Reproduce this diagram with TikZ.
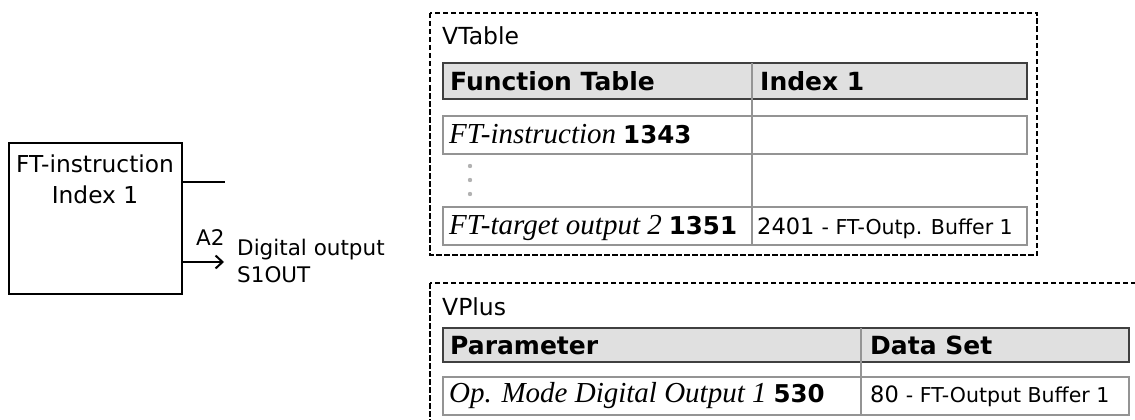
\documentclass[tikz,border=0pt]{standalone}
\usepackage{fontspec}
\setmainfont{DejaVu Sans}
\newfontfamily\serifit{Liberation Serif}
\usetikzlibrary{arrows.meta}
\tikzset{
 frame/.style={draw=black, line width=2.4pt, dash pattern=on 5.5pt off 2.5pt},
 hdr/.style={draw=black!75, fill=black!12, line width=1.3pt},
 rowbox/.style={draw=black!42, line width=2.4pt},
 divider/.style={draw=black!42, line width=2.4pt},
 lbl/.style={anchor=base west, inner sep=0pt},
 clbl/.style={anchor=base, inner sep=0pt},
 blk/.style={draw=black, line width=2.2pt},
 wire/.style={draw=black, line width=2.2pt},
 dot/.style={fill=black!30},
}
\newcommand\ita[1]{{\serifit\itshape\fontsize{29}{32}\selectfont #1}}
\newcommand\bnum[1]{{\bfseries\fontsize{24.5}{28}\selectfont #1}}
\newcommand\rg[1]{{\fontsize{21.5}{24}\selectfont #1}}
\newcommand\bx[1]{{\fontsize{23.3}{26}\selectfont #1}}
\newcommand\hb[1]{{\bfseries\fontsize{25}{28}\selectfont #1}}
\newcommand\sm[1]{{\fontsize{20.5}{24}\selectfont #1}}
\newcommand\bignum[1]{{\fontsize{22.5}{24}\selectfont #1}}
\begin{document}
\begin{tikzpicture}[x=1pt,y=-1pt]
\path[use as bounding box, clip] (0,0) rectangle (1135,420);
% left block
\node[blk, minimum width=173pt, minimum height=151pt, inner sep=0pt] (ftbox) at (95.5,218.5) {};
\node[clbl] (t1) at (95,172) {\bx{FT-instruction}};
\node[clbl] (t2) at (95,203) {\bx{Index 1}};
\coordinate (o1) at (225,182);
\coordinate (o2) at (224,262);
\draw[wire] (ftbox.east |- o1) -- (o1);
\draw[wire, -{Straight Barb[length=7pt,width=13pt,line width=2pt]}] (ftbox.east |- o2) -- (o2);
\node[lbl] (a2) at (196,245) {\rg{A2}};
\node[lbl] (dig) at (237,255) {\rg{Digital output}};
\node[lbl] (s1) at (237,282) {\rg{S1OUT}};
% VTable
\draw[frame] (430,13) rectangle (1037,255);
\node[lbl] (vt) at (442,45) {\fontsize{23.5}{26}\selectfont VTable};
\draw[hdr] (443,63) rectangle (1027,99);
\draw[rowbox] (443,116) rectangle (1027,154);
\draw[rowbox] (443,207) rectangle (1027,245);
\draw[divider] (752,63) -- (752,245);
\node[lbl] (h1) at (450,91) {\hb{Function Table}};
\node[lbl] (h2) at (760,91) {\hb{Index 1}};
\node[lbl] (r1) at (449,143) {\ita{FT-instruction}\hspace{7pt}\bnum{1343}};
\fill[dot] (470,166) circle (2.2pt);
\fill[dot] (470,180) circle (2.2pt);
\fill[dot] (470,194) circle (2.2pt);
\node[lbl] (r2) at (449,234) {\ita{FT-target output 2}\hspace{7pt}\bnum{1351}};
\node[lbl] (r2b) at (757,234) {\bignum{2401\ }\sm{- FT-Outp. Buffer 1}};
% VPlus
\draw[frame] (430,283) rectangle (1150,440);
\node[lbl] (vp) at (442,315) {\fontsize{23.5}{26}\selectfont VPlus};
\draw[hdr] (443,328) rectangle (1129,362);
\draw[rowbox] (443,377) rectangle (1129,415);
\draw[divider] (861,328) -- (861,415);
\node[lbl] (h3) at (450,354) {\hb{Parameter}};
\node[lbl] (h4) at (870,354) {\hb{Data Set}};
\node[lbl] (r3) at (449,402) {\ita{Op. Mode Digital Output 1}\hspace{7pt}\bnum{530}};
\node[lbl] (r3b) at (870,402) {\bignum{80\ }\sm{- FT-Output Buffer 1}};
\end{tikzpicture}
\end{document}
